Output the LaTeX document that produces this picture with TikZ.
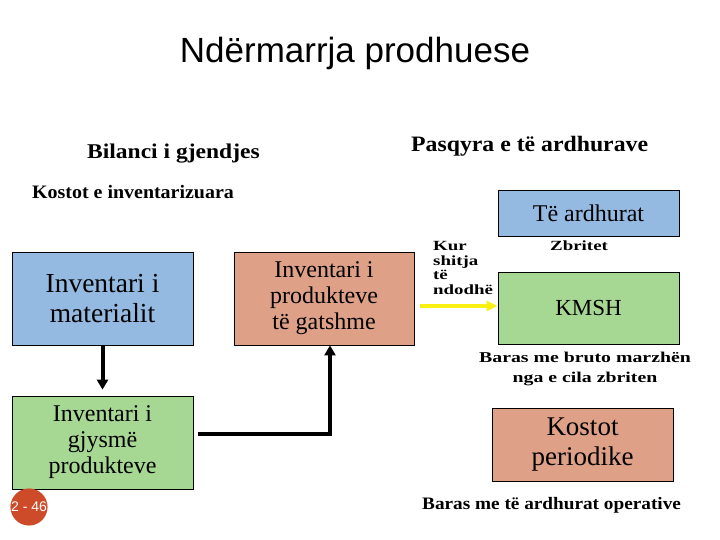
\documentclass[tikz,border=0pt]{standalone}
\usepackage{fontspec}
\usetikzlibrary{arrows.meta}
\setmainfont{Liberation Serif}
\newfontfamily\titlefont{Liberation Sans}
\newfontfamily\hdA[FakeStretch=1.12]{Liberation Serif}
\newfontfamily\hdB[FakeStretch=1.08]{Liberation Serif}
\newfontfamily\hdC[FakeStretch=1.05]{Liberation Serif}
\newfontfamily\smW[FakeStretch=1.35]{Liberation Serif}
\newfontfamily\smM[FakeStretch=1.32]{Liberation Serif}
\newfontfamily\smN[FakeStretch=1.1]{Liberation Serif}
\definecolor{boxblue}{RGB}{148,186,226}
\definecolor{boxorange}{RGB}{222,160,135}
\definecolor{boxgreen}{RGB}{166,216,148}
\definecolor{pagenum}{RGB}{205,75,40}
\definecolor{arrowyellow}{RGB}{250,240,20}
\tikzset{
  infobox/.style={draw=black, line width=0.8pt, inner sep=0pt, align=center, minimum width=181pt},
  flowarrow/.style={line width=4pt, -{Triangle[length=10pt,width=11pt]}},
  yarrow/.style={draw=arrowyellow, line width=3.5pt, -{Triangle[length=11pt,width=10pt]}},
  plain/.style={inner sep=0pt, text=black}
}
\begin{document}
\begin{tikzpicture}[x=1pt,y=-1pt]
\fill[white] (0,0) rectangle (720,540);
\useasboundingbox (0,0) rectangle (720,540);

% title and headings
\node[plain, anchor=base, font=\titlefont\fontsize{35}{40}\selectfont] (title) at (355,63) {Ndërmarrja prodhuese};
\node[plain, anchor=base west, font=\hdA\bfseries\fontsize{21}{24}\selectfont] (bil) at (87,159) {Bilanci i gjendjes};
\node[plain, anchor=base west, font=\hdB\bfseries\fontsize{22}{24}\selectfont] (pasq) at (411,152) {Pasqyra e të ardhurave};
\node[plain, anchor=base west, font=\hdC\bfseries\fontsize{19}{22}\selectfont] (kinv) at (32,199) {Kostot e inventarizuara};

% boxes
\node[infobox, fill=boxblue, minimum height=93pt, font=\fontsize{27.5}{30}\selectfont] (matl) at (102.5,298.5) {Inventari i\\materialit};
\node[infobox, fill=boxorange, minimum width=180pt, minimum height=93pt, font=\fontsize{24}{26}\selectfont] (gats) at (324,298.5) {Inventari i\\produkteve\\të gatshme};
\node[infobox, fill=boxgreen, minimum height=93pt, font=\fontsize{24}{26}\selectfont] (gjys) at (102.5,442.5) {Inventari i\\gjysmë\\produkteve};
\node[infobox, fill=boxblue, minimum height=46pt, font=\fontsize{24}{26}\selectfont] (ardh) at (588.5,213) {Të ardhurat};
\node[infobox, fill=boxgreen, minimum height=72pt, font=\fontsize{23}{26}\selectfont] (kmsh) at (588.5,308) {KMSH};
\node[infobox, fill=boxorange, minimum height=73pt, font=\fontsize{27}{30}\selectfont] (kper) at (582.5,444.5) {Kostot\\periodike};

% small labels
\node[plain, anchor=west, align=left, font=\smW\bfseries\fontsize{14}{14.5}\selectfont] (kur) at (433,268) {Kur\\shitja\\të\\ndodhë};
\node[plain, anchor=base west, font=\smW\bfseries\fontsize{14}{16}\selectfont] (zbr) at (550,251) {Zbritet};
\node[plain, align=center, font=\smM\bfseries\fontsize{15}{20}\selectfont] (bruto) at (585,369) {Baras me bruto marzhën\\nga e cila zbriten};
\node[plain, anchor=base west, font=\smN\bfseries\fontsize{17.5}{20}\selectfont] (oper) at (422,509) {Baras me të ardhurat operative};

% page number
\node[circle, fill=pagenum, minimum size=36pt, inner sep=0pt, text=white, font=\titlefont\fontsize{14}{14}\selectfont] (pg) at (29,507) {2 - 46};

% connectors
\draw[flowarrow, shorten >=6pt] (matl.south) -- (gjys.north);
\coordinate (gjout) at ([xshift=5pt,yshift=8.5pt]gjys.east);
\draw[flowarrow] (gjout) -| ([xshift=6pt]gats.south);
\coordinate (ystart) at (420,306);
\draw[yarrow] (ystart) -- (ystart -| kmsh.west);
\end{tikzpicture}
\end{document}
